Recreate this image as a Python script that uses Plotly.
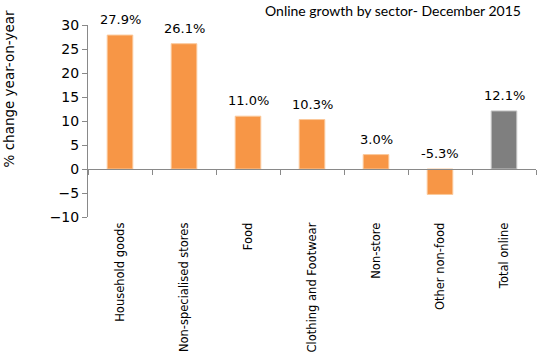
import plotly.graph_objects as go

categories = ["Household goods", "Non-specialised stores", "Food", "Clothing and Footwear",
              "Non-store", "Other non-food", "Total online"]
values = [27.9, 26.1, 11.0, 10.3, 3.0, -5.3, 12.1]
labels = ["27.9%", "26.1%", "11.0%", "10.3%", "3.0%", "-5.3%", "12.1%"]
bar_colors = ["#F79646"] * 6 + ["#7F7F7F"]
edge_colors = ["#FBC89A"] * 6 + ["#C8C8C8"]
y_ticks = [-10, -5, 0, 5, 10, 15, 20, 25, 30]

fig = go.Figure()
fig.add_trace(go.Bar(
    x=categories, y=values, width=0.4,
    marker=dict(color=bar_colors, line=dict(color=edge_colors, width=1)),
    hoverinfo="skip",
))

for c, v, t in zip(categories, values, labels):
    fig.add_annotation(x=c, y=max(v, 0), text=t, showarrow=False,
                       xref="x", yref="y", yanchor="bottom", yshift=6,
                       font=dict(family="DejaVu Sans", size=13, color="#000000"))

fig.add_annotation(text="% change year-on-year", textangle=-90, showarrow=False,
                   xref="paper", yref="paper", x=-0.176, y=0.665,
                   xanchor="center", yanchor="middle",
                   font=dict(family="DejaVu Sans", size=13.5, color="#000000"))

fig.add_annotation(text="Online growth by sector- December 2015", showarrow=False,
                   xref="paper", yref="paper", x=0.971, y=1.13,
                   xanchor="right", yanchor="top",
                   font=dict(family="Lato", size=14, color="#000000"))

fig.update_layout(
    width=537, height=354,
    margin=dict(l=88, r=1, t=25, b=137, autoexpand=False),
    paper_bgcolor="white", plot_bgcolor="white",
    showlegend=False,
    xaxis=dict(
        anchor="free", position=0.25, automargin=False,
        showline=True, linecolor="#898989", linewidth=1,
        ticks="outside", ticklen=5, tickcolor="#898989", tickson="boundaries",
        tickangle=-90, ticklabelstandoff=48,
        tickfont=dict(family="DejaVu Sans", size=11.5, color="#000000"),
        showgrid=False, zeroline=False,
    ),
    yaxis=dict(
        range=[-10, 30], tickvals=y_ticks, automargin=False,
        showline=True, linecolor="#898989", linewidth=1,
        ticks="outside", ticklen=5, tickcolor="#898989",
        tickfont=dict(family="DejaVu Sans", size=14, color="#000000"),
        showgrid=False, zeroline=False,
    ),
)

fig.write_html("out.html")
